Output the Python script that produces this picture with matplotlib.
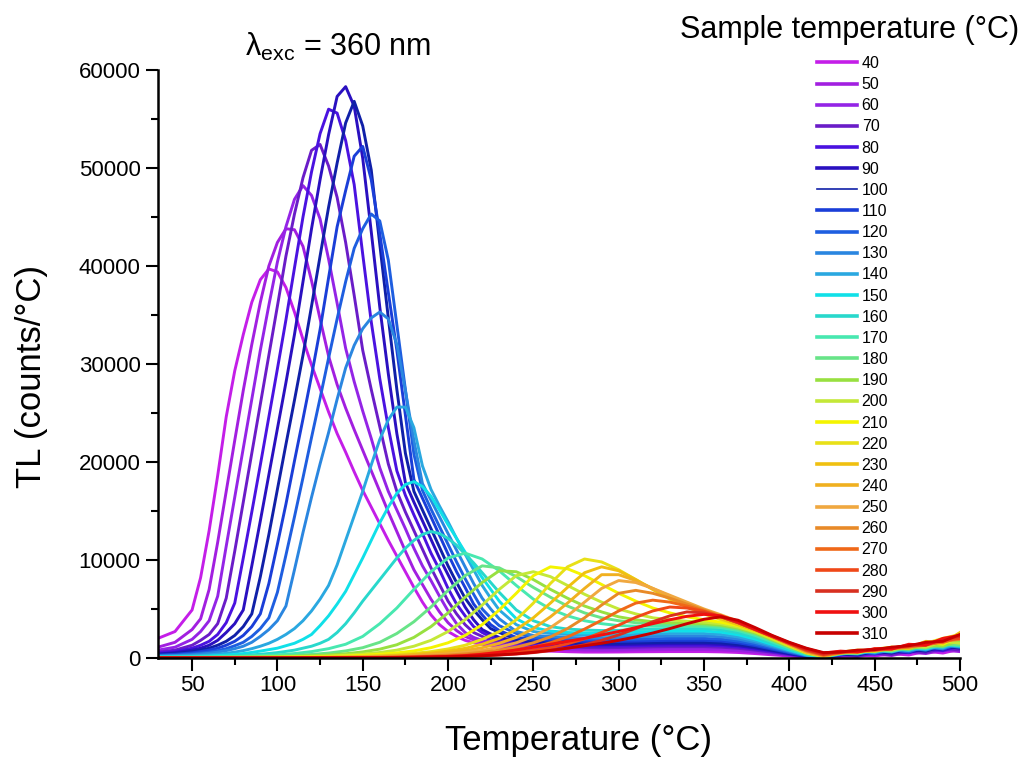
import matplotlib
matplotlib.use('Agg')
import matplotlib.pyplot as plt
from matplotlib.ticker import MultipleLocator

plt.rcParams['font.family'] = ['Liberation Sans', 'DejaVu Sans']
plt.rcParams['mathtext.fontset'] = 'custom'
plt.rcParams['mathtext.rm'] = 'Liberation Sans'
plt.rcParams['mathtext.it'] = 'Liberation Sans:italic'

# heating temperature (degC): finer steps through the main peak for
# the low sample temperatures
temps_fine = [30, 40,
              50, 55, 60, 65, 70, 75, 80, 85, 90, 95,
              100, 105, 110, 115, 120, 125, 130, 135, 140, 145,
              150, 155, 160, 165, 170, 175, 180, 185, 190, 195,
              200, 205, 210, 215, 220, 225, 230,
              240, 250, 260, 270, 280, 290, 300, 310, 320, 330,
              340, 350, 360, 370, 380, 390, 400, 410, 420,
              430, 440, 450, 460, 470, 480, 490, 500]
temps = [30, 40, 50, 60, 70, 80, 90, 100, 110, 120,
         130, 140, 150, 160, 170, 180, 190, 200, 210, 220,
         230, 240, 250, 260, 270, 280, 290, 300, 310, 320,
         330, 340, 350, 360, 370, 380, 390, 400, 410, 420,
         430, 440, 450, 460, 470, 480, 490, 500]

# glow curves (counts/degC), sample temperatures 40-160 on temps_fine
tl_40 = [2000, 2700,
         4900, 8200, 13000, 18600, 24600, 29300, 33000, 36300, 38600, 39700,
         39400, 37800, 35300, 32500, 29900, 27500, 25100, 22900, 21000, 19000,
         17100, 15400, 13700, 12000, 10400, 8800, 7200, 5700, 4400, 3400,
         2700, 2200, 1800, 1550, 1400, 1250, 1100,
         900, 780, 700, 640, 600, 600, 610, 630, 640, 650,
         650, 650, 620, 560, 450, 320, 200, 80, 30,
         150, 300, 200, 450, 300, 700, 500, 900]
tl_50 = [1100, 1600,
         2900, 4000, 7000, 11800, 17000, 22200, 27300, 32000, 36300, 40000,
         42400, 43800, 43700, 42000, 38500, 34600, 30800, 27900, 25500, 23300,
         21200, 19100, 17000, 14900, 12900, 10900, 9000, 7500, 6000, 4700,
         3600, 2800, 2200, 1850, 1600, 1450, 1300,
         1100, 980, 900, 850, 800, 780, 790, 815, 835, 850,
         850, 850, 815, 730, 600, 425, 255, 100, 35,
         200, 150, 400, 250, 600, 450, 800, 650]
tl_60 = [800, 1100,
         1900, 2700, 3800, 6300, 11400, 16400, 21400, 26400, 31400, 36000,
         40400, 44000, 46800, 48200, 47200, 44800, 40700, 36200, 31600, 28200,
         25200, 22400, 19400, 17000, 15100, 13200, 11200, 9400, 7900, 6300,
         4800, 3500, 2600, 2100, 1800, 1600, 1450,
         1250, 1150, 1050, 980, 930, 920, 930, 960, 980, 1000,
         1000, 1000, 960, 860, 700, 500, 300, 120, 40,
         250, 400, 300, 550, 500, 800, 700, 1100]
tl_70 = [600, 800,
         1300, 1800, 2400, 3500, 6100, 10900, 15900, 20900, 25900, 30900,
         35900, 41000, 45300, 49000, 51800, 52400, 50200, 47000, 42400, 37000,
         31400, 27400, 23600, 19800, 17000, 14900, 13000, 11100, 9200, 7500,
         5800, 4500, 3400, 2600, 2200, 1850, 1700,
         1450, 1300, 1200, 1120, 1070, 1050, 1070, 1100, 1130, 1150,
         1150, 1150, 1100, 990, 800, 575, 345, 140, 45,
         300, 200, 500, 350, 700, 550, 1000, 800]
tl_80 = [500, 650,
         1000, 1300, 1700, 2400, 3600, 5600, 10200, 14900, 19700, 24600,
         29500, 34500, 39800, 45000, 49600, 53500, 56000, 55600, 52800, 48300,
         41200, 34300, 28500, 23500, 19100, 16600, 14600, 12700, 10700, 9000,
         7100, 5500, 4300, 3200, 2600, 2150, 1850,
         1600, 1450, 1350, 1270, 1220, 1200, 1220, 1250, 1280, 1300,
         1300, 1300, 1250, 1120, 910, 650, 390, 160, 50,
         350, 500, 400, 650, 600, 900, 750, 1200]
tl_90 = [400, 550,
         800, 1000, 1300, 1800, 2600, 3500, 4900, 9400, 14000, 18700,
         23400, 28100, 33000, 38400, 43800, 48800, 53400, 57300, 58300, 56300,
         51000, 43500, 35800, 29000, 22900, 17900, 15900, 14000, 12100, 10200,
         8500, 6800, 5200, 3900, 2900, 2450, 2100,
         1750, 1600, 1500, 1420, 1370, 1350, 1370, 1400, 1430, 1450,
         1450, 1450, 1390, 1250, 1015, 725, 435, 175, 60,
         300, 550, 450, 700, 550, 1000, 850, 1300]
tl_100 = [350, 450,
          650, 800, 1000, 1300, 1700, 2300, 3200, 4500, 8300, 12600,
          17200, 21800, 26300, 30900, 35900, 41000, 46000, 50500, 54600, 56800,
          54300, 49800, 42200, 34700, 27400, 20900, 17000, 15100, 13200, 11300,
          9400, 7700, 6100, 4900, 3900, 3000, 2600,
          1900, 1750, 1650, 1570, 1500, 1480, 1500, 1540, 1570, 1600,
          1600, 1600, 1540, 1380, 1120, 800, 480, 190, 65,
          400, 300, 650, 500, 900, 700, 1200, 1000]
tl_110 = [300, 380,
          520, 650, 800, 1000, 1300, 1700, 2300, 3200, 4500, 7600,
          11600, 15700, 20100, 24400, 28800, 33500, 38800, 44000, 47700, 51200,
          52200, 48800, 43300, 37300, 31400, 24800, 18200, 16300, 14400, 12500,
          10600, 8800, 7200, 5500, 4400, 3400, 2800,
          2100, 1900, 1800, 1750, 1700, 1700, 1700, 1730, 1770, 1800,
          1800, 1800, 1730, 1550, 1260, 900, 540, 215, 70,
          450, 600, 500, 800, 700, 1100, 950, 1400]
tl_120 = [250, 300,
          420, 500, 600, 750, 950, 1250, 1600, 2200, 3000, 4100,
          6700, 10500, 14400, 18400, 22500, 26500, 30600, 34600, 38400, 41800,
          43800, 45300, 44600, 40600, 34000, 27400, 20800, 17100, 15200, 13400,
          11600, 9800, 8100, 6500, 5000, 4100, 3300,
          2500, 2100, 2000, 1950, 1900, 1880, 1900, 1920, 1960, 2000,
          2000, 2000, 1920, 1720, 1400, 1000, 600, 240, 80,
          350, 650, 450, 850, 600, 1200, 900, 1500]
tl_130 = [200, 250,
          330, 400, 480, 600, 750, 950, 1200, 1600, 2200, 2900,
          3800, 5300, 9000, 12800, 16400, 19800, 23000, 26400, 29600, 31900,
          33600, 34700, 35300, 34600, 32000, 27300, 22200, 17800, 16100, 14400,
          12700, 11000, 9300, 7600, 6100, 5000, 4000,
          2700, 2300, 2200, 2100, 2050, 2050, 2100, 2160, 2200, 2250,
          2250, 2250, 2160, 1930, 1580, 1130, 680, 270, 90,
          500, 400, 750, 600, 1000, 800, 1300, 1100]
tl_140 = [150, 180,
          230, 270, 320, 390, 480, 600, 750, 950, 1200, 1500,
          1900, 2400, 3000, 3800, 4800, 6000, 7400, 9500, 12000, 14500,
          17000, 19700, 22300, 24300, 25600, 25600, 23500, 19600, 17200, 15500,
          13900, 12200, 10600, 9000, 7400, 6100, 4900,
          3400, 2700, 2500, 2400, 2350, 2300, 2330, 2400, 2450, 2500,
          2500, 2500, 2400, 2150, 1750, 1250, 750, 300, 100,
          400, 700, 550, 900, 750, 1100, 1000, 1600]
tl_150 = [100, 120,
          150, 170, 200, 250, 300, 370, 450, 570, 700, 850,
          1000, 1250, 1500, 1900, 2400, 3300, 4300, 5500, 6800, 8500,
          10200, 12000, 13800, 15400, 16800, 17700, 18000, 17500, 16500, 15100,
          13600, 12200, 10800, 9500, 8200, 7000, 5800,
          4000, 3100, 2750, 2600, 2550, 2550, 2580, 2650, 2700, 2750,
          2750, 2750, 2640, 2370, 1930, 1380, 830, 330, 110,
          550, 450, 800, 650, 1100, 900, 1400, 1200]
tl_160 = [80, 90,
          110, 125, 140, 160, 190, 230, 270, 320, 380, 460,
          550, 670, 800, 1000, 1200, 1500, 1900, 2600, 3500, 4600,
          5800, 6900, 8000, 9100, 10200, 11200, 12000, 12600, 12900, 12700,
          12200, 11500, 10600, 9700, 8700, 7700, 6700,
          4900, 3800, 3200, 2950, 2850, 2800, 2820, 2900, 2950, 3000,
          3000, 3000, 2880, 2580, 2100, 1500, 900, 360, 120,
          450, 750, 600, 950, 800, 1300, 1100, 1700]

# sample temperatures 170-310 on temps
tl_170 = [60, 70, 80, 100, 130, 170, 230, 320, 450, 650,
          950, 1400, 2200, 3500, 5100, 7000, 8800, 10200, 10700, 10100,
          8900, 7400, 6000, 5000, 4300, 3800, 3500, 3300, 3250, 3250,
          3250, 3250, 3200, 3100, 2800, 2300, 1650, 1000, 420, 140,
          500, 650, 700, 900, 1000, 1200, 1300, 1500]
tl_180 = [50, 55, 60, 70, 90, 110, 140, 190, 260, 360,
          500, 720, 1050, 1600, 2500, 3700, 5200, 6900, 8400, 9400,
          9200, 8300, 7200, 6200, 5300, 4600, 4100, 3800, 3600, 3500,
          3450, 3400, 3350, 3250, 2950, 2450, 1800, 1100, 470, 150,
          450, 550, 800, 700, 1100, 1000, 1400, 1300]
tl_190 = [40, 45, 50, 55, 65, 80, 100, 130, 170, 230,
          310, 430, 620, 900, 1350, 2100, 3200, 4600, 6200, 7700,
          8900, 8800, 8000, 7000, 6100, 5300, 4700, 4200, 3900, 3700,
          3600, 3550, 3500, 3350, 3050, 2550, 1850, 1150, 500, 160,
          500, 700, 650, 1000, 900, 1300, 1200, 1800]
tl_200 = [30, 35, 40, 45, 50, 60, 75, 95, 120, 160,
          210, 290, 400, 560, 800, 1200, 1800, 2700, 3900, 5400,
          7000, 8400, 8800, 8300, 7400, 6500, 5700, 5000, 4500, 4100,
          3900, 3750, 3650, 3500, 3150, 2650, 1950, 1200, 520, 160,
          550, 500, 900, 800, 1200, 1100, 1700, 1500]
tl_210 = [25, 25, 30, 35, 40, 45, 55, 70, 90, 110,
          150, 200, 280, 380, 520, 720, 1050, 1550, 2300, 3400,
          4900, 6600, 8400, 9300, 9100, 8400, 7500, 6600, 5800, 5100,
          4600, 4200, 3900, 3650, 3300, 2750, 2050, 1300, 560, 170,
          600, 800, 750, 1100, 1000, 1600, 1400, 2200]
tl_220 = [20, 20, 25, 25, 30, 35, 40, 50, 60, 80,
          100, 130, 180, 250, 340, 470, 650, 920, 1300, 1900,
          2700, 3900, 5600, 7600, 9300, 10100, 9800, 9000, 8000, 7000,
          6000, 5200, 4500, 3900, 3400, 2800, 2100, 1350, 600, 200,
          500, 750, 700, 1000, 1200, 1500, 2000, 2400]
tl_230 = [15, 15, 20, 20, 25, 30, 35, 40, 50, 60,
          80, 100, 140, 190, 260, 360, 500, 700, 980, 1400,
          2000, 2900, 4100, 5600, 7200, 8700, 9300, 8900, 8000, 7000,
          6100, 5300, 4600, 4000, 3400, 2800, 2100, 1350, 600, 200,
          650, 600, 900, 1100, 1000, 1700, 1500, 2600]
tl_240 = [10, 10, 15, 15, 20, 25, 30, 35, 40, 50,
          60, 80, 110, 150, 200, 280, 390, 540, 750, 1050,
          1500, 2100, 3000, 4200, 5600, 7100, 8500, 8500, 7900, 7100,
          6300, 5500, 4800, 4200, 3600, 2900, 2150, 1400, 620, 210,
          550, 700, 850, 900, 1300, 1400, 1800, 2000]
tl_250 = [10, 10, 10, 15, 15, 20, 25, 30, 35, 40,
          50, 60, 80, 110, 150, 210, 290, 400, 560, 780,
          1100, 1550, 2200, 3100, 4300, 5700, 7100, 7900, 7700, 7100,
          6400, 5700, 5000, 4400, 3750, 3000, 2200, 1400, 650, 220,
          600, 650, 800, 1000, 1100, 1500, 1600, 2100]
tl_260 = [10, 10, 10, 10, 15, 15, 20, 25, 30, 35,
          40, 50, 65, 85, 115, 160, 220, 300, 420, 580,
          800, 1100, 1550, 2150, 3000, 4100, 5400, 6600, 6900, 6600,
          6100, 5500, 4900, 4300, 3700, 3000, 2200, 1450, 700, 250,
          500, 700, 750, 950, 1100, 1300, 1700, 1900]
tl_270 = [5, 5, 10, 10, 10, 15, 15, 20, 25, 30,
          35, 40, 50, 65, 85, 115, 160, 220, 300, 420,
          580, 800, 1100, 1550, 2150, 2950, 3850, 4800, 5600, 5900,
          5700, 5300, 4800, 4200, 3600, 2900, 2200, 1450, 750, 300,
          600, 650, 850, 1000, 1150, 1400, 1600, 2100]
tl_280 = [5, 5, 5, 10, 10, 10, 15, 15, 20, 25,
          30, 35, 40, 50, 65, 85, 115, 160, 220, 300,
          410, 560, 770, 1050, 1450, 1950, 2600, 3350, 4150, 4800,
          5200, 5100, 4750, 4200, 3600, 2900, 2200, 1500, 800, 350,
          550, 750, 800, 1050, 1200, 1450, 1800, 2000]
tl_290 = [5, 5, 5, 5, 10, 10, 10, 15, 15, 20,
          25, 30, 35, 40, 50, 65, 85, 115, 160, 220,
          300, 400, 550, 750, 1000, 1350, 1800, 2350, 3000, 3700,
          4300, 4700, 4600, 4200, 3600, 2900, 2200, 1500, 850, 400,
          650, 700, 900, 1000, 1300, 1350, 1900, 2200]
tl_300 = [5, 5, 5, 5, 5, 10, 10, 10, 15, 15,
          20, 25, 30, 40, 55, 75, 110, 160, 240, 380,
          580, 820, 1100, 1400, 1700, 2000, 2350, 2700, 3100, 3500,
          3900, 4250, 4450, 4300, 3700, 2950, 2250, 1550, 950, 500,
          700, 600, 950, 900, 1400, 1300, 2000, 2300]
tl_310 = [5, 5, 5, 5, 5, 5, 10, 10, 10, 15,
          15, 20, 25, 30, 40, 55, 80, 120, 170, 230,
          320, 430, 580, 780, 1000, 1250, 1500, 1800, 2150, 2550,
          3000, 3500, 3950, 4200, 3850, 3100, 2300, 1600, 1000, 550,
          600, 800, 850, 1100, 1250, 1600, 1700, 2400]

sample_temps = [40, 50, 60, 70, 80, 90, 100, 110, 120, 130, 140, 150, 160,
                170, 180, 190, 200, 210, 220, 230, 240, 250, 260, 270, 280,
                290, 300, 310]
curves = [tl_40, tl_50, tl_60, tl_70, tl_80, tl_90, tl_100, tl_110, tl_120,
          tl_130, tl_140, tl_150, tl_160, tl_170, tl_180, tl_190, tl_200,
          tl_210, tl_220, tl_230, tl_240, tl_250, tl_260, tl_270, tl_280,
          tl_290, tl_300, tl_310]
colors = ['#c41ee8', '#a21fe0', '#9424e6', '#6a1cc8', '#4a12e0', '#2a10c0',
          '#1020a8', '#1a3ed8', '#1e5ee0', '#2a86e0', '#2aa8e0', '#10e0e8',
          '#28d8cc', '#48e8b0', '#68e488', '#98e040', '#c4e838', '#f4f400',
          '#e8e018', '#f0c010', '#f0b020', '#f0a840', '#e88a28', '#f06818',
          '#f04818', '#d83020', '#f01010', '#c80000']

fig = plt.figure(figsize=(10.29, 7.59), dpi=100)
ax = fig.add_axes([0.1535, 0.1331, 0.7794, 0.7747])

for st, col, tl in zip(sample_temps, colors, curves):
    t = temps_fine if len(tl) == len(temps_fine) else temps
    ax.plot(t, tl, color=col, lw=2.1, label=str(st),
            solid_joinstyle='round')

ax.set_xlim(30, 500)
ax.set_ylim(0, 60000)
ax.xaxis.set_major_locator(MultipleLocator(50))
ax.xaxis.set_minor_locator(MultipleLocator(25))
ax.yaxis.set_major_locator(MultipleLocator(10000))
ax.yaxis.set_minor_locator(MultipleLocator(5000))
ax.tick_params(which='major', direction='out', length=9, width=1.5,
               labelsize=16)
ax.tick_params(which='minor', direction='out', length=5, width=1.5)
for side in ('top', 'right'):
    ax.spines[side].set_visible(False)
for side in ('left', 'bottom'):
    ax.spines[side].set_linewidth(1.8)

ax.set_xlabel('Temperature (°C)', fontsize=25)
ax.set_ylabel('TL (counts/°C)', fontsize=25)
ax.xaxis.set_label_coords(0.524, -0.113)
ax.yaxis.set_label_coords(-0.137, 0.478)

fig.text(245 / 1029, 1 - 47 / 759, r'$\mathregular{\lambda_{exc}}$ = 360 nm',
         fontsize=22, va='center', ha='left')
fig.text(680 / 1029, 1 - 30 / 759, 'Sample temperature (°C)',
         fontsize=22, va='center', ha='left')

leg = ax.legend(loc='upper left', bbox_to_anchor=(817 / 1029, 1 - 56 / 759),
                bbox_transform=fig.transFigure, frameon=False, fontsize=11.5,
                handlelength=2.5, handletextpad=0.3, labelspacing=0.385,
                borderpad=0, borderaxespad=0)
for st, line in zip(sample_temps, leg.get_lines()):
    line.set_linewidth(1.2 if st == 100 else 2.6)

fig.savefig('out.png', dpi=100)
